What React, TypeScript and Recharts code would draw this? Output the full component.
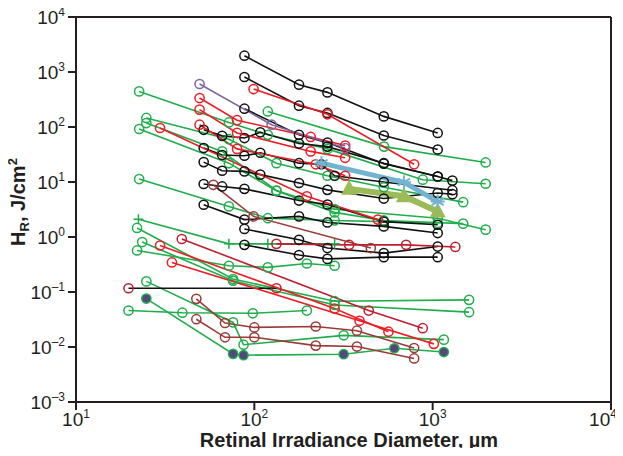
import { Label, Line, LineChart, ReferenceLine, XAxis, YAxis } from 'recharts'

type Pt = [number, number]

const X_TICKS = [10, 100, 1000, 10000]
const Y_TICKS = [0.001, 0.01, 0.1, 1, 10, 100, 1000, 10000]

// black series (open circles)
const black1: Pt[] = [[88, 1977], [178, 587], [257, 426], [532, 156], [1067, 78]]
const black2: Pt[] = [[88, 811], [178, 244], [257, 180], [532, 70], [1067, 39]]
const black3: Pt[] = [[88, 215], [178, 72], [257, 52], [532, 21.5], [1067, 12.6], [1290, 10.6]]
const black4: Pt[] = [[52, 89], [66, 69], [88, 63], [108, 80], [178, 50], [257, 44], [532, 22], [1067, 12.6]]
const black5: Pt[] = [[52, 41.5], [66, 31], [88, 30], [108, 34], [178, 22], [238, 21], [282, 13], [532, 10], [1290, 7.1]]
const black6: Pt[] = [[52, 23], [66, 16], [88, 15.6], [108, 13.6], [178, 9.6], [257, 7.2], [532, 5], [1067, 6.3], [1290, 6.0]]
const black7: Pt[] = [[52, 9.2], [66, 8.3], [88, 7.5], [178, 4.6], [257, 3.9], [532, 1.9], [1067, 1.67]]
const black8: Pt[] = [[52, 3.86], [88, 2.07], [178, 2.37], [257, 1.84], [532, 1.56], [1067, 1.18]]
const black9: Pt[] = [[88, 1.4], [178, 0.89], [257, 0.63], [532, 0.51], [1067, 0.67]]
const black10: Pt[] = [[88, 0.72], [178, 0.47], [257, 0.4], [532, 0.43], [1067, 0.43]]
const blackRed: Pt[] = [[19.7, 0.117], [133, 0.117]]

// green series
const green1: Pt[] = [[22.6, 444], [72, 121], [119, 72], [257, 40], [880, 11], [1982, 9.3]]
const green2: Pt[] = [[119, 192], [534, 44], [1982, 22.7]]
const green3: Pt[] = [[24.8, 146], [72, 60], [133, 22], [257, 13], [532, 8], [1483, 4.3]]
const green4: Pt[] = [[24.8, 118], [66, 36], [133, 7], [282, 3.2], [1067, 2.2], [1982, 1.36]]
const green5: Pt[] = [[22.6, 92], [72, 22], [133, 6.9], [282, 2.8], [532, 2.0], [1483, 1.75]]
const green6: Pt[] = [[22.6, 11.3], [72, 3.6], [119, 2.2], [282, 2.0], [532, 1.9], [1067, 1.8]]
const greenPlus: Pt[] = [[22.4, 2.1], [72, 0.75], [119, 0.75], [282, 0.75]]
const green8: Pt[] = [[22, 1.46], [76, 0.172], [282, 0.068], [1600, 0.072]]
const green9: Pt[] = [[23.5, 0.81], [76, 0.16], [282, 0.058], [1600, 0.043]]
const green10: Pt[] = [[22, 0.57], [72, 0.3], [119, 0.28], [197, 0.33], [282, 0.3]]
const green11: Pt[] = [[19.7, 0.046], [39.5, 0.042], [98, 0.041], [197, 0.046]]
const green12: Pt[] = [[24.8, 0.156], [76, 0.028], [87, 0.011], [317, 0.0163], [1155, 0.0136]]
const greenFilled: Pt[] = [[24.8, 0.076], [76, 0.0075], [87, 0.0071], [317, 0.0074], [610, 0.0095], [1155, 0.0081]]

// red / brown series
const red1: Pt[] = [[99, 490], [257, 170], [787, 21]]
const red2: Pt[] = [[49.3, 336], [80, 133], [207, 66], [323, 46]]
const red3: Pt[] = [[49.3, 207], [80, 78], [207, 36], [323, 27.5]]
const red4: Pt[] = [[49.3, 110], [80, 40], [221, 21], [323, 13]]
const red5: Pt[] = [[29.6, 96], [197, 5.5], [493, 2.07]]
const red6: Pt[] = [[29.6, 0.7], [282, 0.05], [565, 0.019]]
const red7: Pt[] = [[34.5, 0.345], [389, 0.03], [1015, 0.0114]]
const darkRed1: Pt[] = [[39.2, 0.92], [438, 0.046], [880, 0.022]]
const darkRed2: Pt[] = [[133, 0.75], [340, 0.72], [710, 0.72], [1340, 0.66]]
const brown1: Pt[] = [[58.9, 8.9], [99, 2.37], [450, 0.63]]
const brown2: Pt[] = [[47.3, 0.075], [68.5, 0.0273], [100, 0.0227], [221, 0.0236], [376, 0.0198], [787, 0.0096]]
const brown3: Pt[] = [[47.3, 0.032], [68.5, 0.015], [100, 0.015], [221, 0.0106], [376, 0.0102], [787, 0.0062]]

const purple1: Pt[] = [[49.3, 605], [125, 110], [323, 41.5]]
const blue1: Pt[] = [[238, 22], [690, 9.9], [1067, 4.4]]
const olive1: Pt[] = [[340, 7.5], [690, 5.5], [1067, 2.9]]

const BLACK = '#111111'
const GREEN = '#1fae4b'
const RED = '#ee1c25'
const DARKRED = '#bf1e2e'
const BROWN = '#9a3b39'
const PURPLE = '#8064a2'
const BLUE = '#72b4d0'
const OLIVE = '#9bbb59'
const FILL = '#56457f'
const AXIS = '#231f20'
const FONT = '"Liberation Sans", Arial, Helvetica, sans-serif'

type Kind = 'circle' | 'filled' | 'plus' | 'star' | 'tri'

const marker = (kind: Kind, color: string) => (p: any) => {
  const { cx, cy, index } = p
  if (cx == null || cy == null) return <g key={index} />
  if (kind === 'circle')
    return <circle key={index} cx={cx} cy={cy} r={4.6} fill="none" stroke={color} strokeWidth={1.5} />
  if (kind === 'filled')
    return <circle key={index} cx={cx} cy={cy} r={4.6} fill={FILL} stroke={color} strokeWidth={1.5} />
  if (kind === 'plus')
    return (
      <path key={index} d={`M${cx - 5},${cy}H${cx + 5}M${cx},${cy - 5}V${cy + 5}`} stroke={color} strokeWidth={1.5} />
    )
  if (kind === 'star') {
    const r = 7
    const d = [0, 60, 120].map((a) => {
      const t = (a * Math.PI) / 180
      return `M${cx - r * Math.sin(t)},${cy - r * Math.cos(t)}L${cx + r * Math.sin(t)},${cy + r * Math.cos(t)}`
    })
    return <path key={index} d={d.join('') + `M${cx - r},${cy}H${cx + r}`} stroke={color} strokeWidth={2} />
  }
  return (
    <polygon key={index} points={`${cx},${cy - 9} ${cx - 8},${cy + 6} ${cx + 8},${cy + 6}`} fill={color} />
  )
}

type S = { data: Pt[]; color: string; kind: Kind; width?: number; line?: string }

const SERIES: S[] = [
  ...[green1, green2, green3, green4, green5, green6, green8, green9, green10, green11, green12].map(
    (d) => ({ data: d, color: GREEN, kind: 'circle' as Kind })
  ),
  { data: greenPlus, color: GREEN, kind: 'plus' },
  { data: greenFilled, color: GREEN, kind: 'filled' },
  ...[black1, black2, black3, black4, black5, black6, black7, black8, black9, black10].map((d) => ({
    data: d,
    color: BLACK,
    kind: 'circle' as Kind,
  })),
  { data: blackRed, color: DARKRED, kind: 'circle', line: BLACK },
  ...[brown1, brown2, brown3].map((d) => ({ data: d, color: BROWN, kind: 'circle' as Kind })),
  ...[darkRed1, darkRed2].map((d) => ({ data: d, color: DARKRED, kind: 'circle' as Kind })),
  ...[red1, red2, red3, red4, red5, red6, red7].map((d) => ({ data: d, color: RED, kind: 'circle' as Kind })),
  { data: purple1, color: PURPLE, kind: 'circle' },
  { data: olive1, color: OLIVE, kind: 'tri', width: 6 },
  { data: blue1, color: BLUE, kind: 'star', width: 5 },
]

function PowTick(props: any) {
  const { x, y, payload, orient } = props
  const e = Math.round(Math.log10(payload.value))
  const exp = e < 0 ? `\u2013${-e}` : `${e}`
  if (orient === 'left') {
    return (
      <text x={x - 1} y={y + 7} textAnchor="end" fontFamily={FONT} fontSize={19} fill={AXIS}>
        10<tspan dy={-8} fontSize={12}>{exp}</tspan>
      </text>
    )
  }
  return (
    <text x={e === 4 ? x - 8 : x} y={y + 14} textAnchor="middle" fontFamily={FONT} fontSize={19} fill={AXIS}>
      10<tspan dy={-8} fontSize={12}>{exp}</tspan>
    </text>
  )
}

export default function App() {
  return (
    <div style={{ margin: -8 }}>
      <LineChart width={623} height={456} margin={{ top: 17, right: 12, left: 16, bottom: 0 }} style={{ overflow: 'visible' }}>
        <XAxis
          type="number"
          dataKey="x"
          scale="log"
          domain={[10, 10000]}
          ticks={X_TICKS}
          allowDataOverflow
          height={54}
          axisLine={{ stroke: AXIS, strokeWidth: 2 }}
          tickLine={{ stroke: AXIS, strokeWidth: 2 }}
          tickSize={8}
          tick={<PowTick orient="bottom" />}
          interval={0}
        >
          <Label
            content={() => (
              <text x={349} y={447} textAnchor="middle" fontFamily={FONT} fontSize={20} fontWeight="bold" fill={AXIS}>
                Retinal Irradiance Diameter, µm
              </text>
            )}
          />
        </XAxis>
        <YAxis
          type="number"
          dataKey="y"
          scale="log"
          domain={[0.001, 10000]}
          ticks={Y_TICKS}
          allowDataOverflow
          width={60}
          axisLine={{ stroke: AXIS, strokeWidth: 2 }}
          tickLine={{ stroke: AXIS, strokeWidth: 2 }}
          tickSize={8}
          tick={<PowTick orient="left" />}
          interval={0}
        >
          <Label
            content={() => (
              <text
                x={25}
                y={202}
                transform="rotate(-90 25 202)"
                textAnchor="middle"
                fontFamily={FONT}
                fontSize={20}
                fontWeight="bold"
                fill={AXIS}
              >
                H<tspan dy={4} fontSize={13}>R</tspan>
                <tspan dy={-4}>, J/cm</tspan>
                <tspan dy={-8} fontSize={13}>2</tspan>
              </text>
            )}
          />
        </YAxis>
        <ReferenceLine y={10000} stroke={AXIS} strokeWidth={2} ifOverflow="visible" />
        <ReferenceLine x={10000} stroke={AXIS} strokeWidth={2} ifOverflow="visible" />
        {SERIES.map((s, i) => (
          <Line
            key={i}
            data={s.data.map(([x, y]) => ({ x, y }))}
            dataKey="y"
            type="linear"
            stroke={s.line ?? s.color}
            strokeWidth={s.width ?? 1.6}
            dot={marker(s.kind, s.color)}
            activeDot={false}
            isAnimationActive={false}
          />
        ))}
      </LineChart>
    </div>
  )
}
